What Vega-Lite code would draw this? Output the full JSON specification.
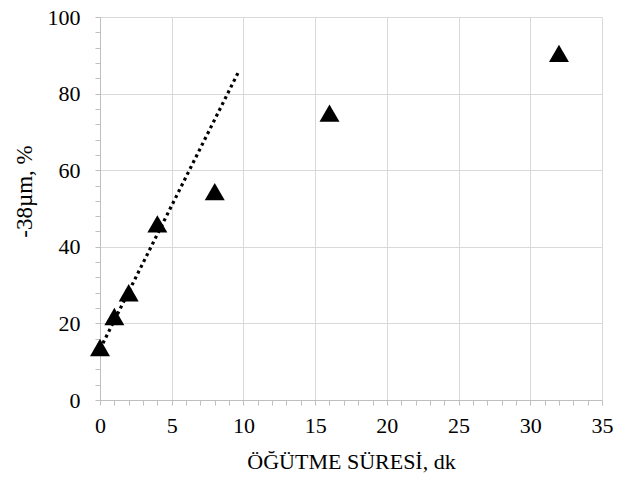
{
  "$schema": "https://vega.github.io/schema/vega-lite/v6.json",
  "width": 502,
  "height": 383,
  "autosize": {"type": "none"},
  "padding": {"left": 100, "top": 17, "right": 23, "bottom": 90},
  "background": "white",
  "config": {"view": {"stroke": null}},
  "datasets": {
    "pts": [
      {"t": 0, "p": 13.7},
      {"t": 1, "p": 21.8},
      {"t": 2, "p": 28.0},
      {"t": 4, "p": 46.0},
      {"t": 8, "p": 54.4},
      {"t": 16, "p": 74.9},
      {"t": 32, "p": 90.5}
    ],
    "trend": [
      {"t": 0, "p": 13.3},
      {"t": 9.7, "p": 86.0}
    ]
  },
  "resolve": {"axis": {"x": "independent", "y": "independent"}},
  "layer": [
    {
      "data": {"name": "trend"},
      "mark": {"type": "line", "color": "black", "strokeWidth": 3.2, "strokeDash": [3, 3.5], "strokeCap": "butt"},
      "encoding": {
        "x": {
          "field": "t", "type": "quantitative",
          "scale": {"domain": [0, 35], "nice": false},
          "axis": {
            "orient": "bottom",
            "title": "ÖĞÜTME SÜRESİ, dk",
            "values": [0, 5, 10, 15, 20, 25, 30, 35],
            "labelOverlap": false,
            "grid": true,
            "gridColor": "#d9d9d9",
            "labelFont": "Liberation Serif",
            "titleFont": "Liberation Serif",
            "labelFontSize": 22,
            "titleFontSize": 22,
            "titleFontWeight": "normal",
            "labelColor": "black",
            "titleColor": "black",
            "domainColor": "#bfbfbf",
            "tickColor": "#bfbfbf",
            "tickSize": 5,
            "labelPadding": 10,
            "titlePadding": 15,
            "labelFlush": false
          }
        },
        "y": {
          "field": "p", "type": "quantitative",
          "scale": {"domain": [0, 100], "nice": false},
          "axis": {
            "orient": "left",
            "title": "-38µm, %",
            "values": [0, 20, 40, 60, 80, 100],
            "labelOverlap": false,
            "grid": true,
            "gridColor": "#d9d9d9",
            "labelFont": "Liberation Serif",
            "titleFont": "Liberation Serif",
            "labelFontSize": 22,
            "titleFontSize": 23,
            "titleFontWeight": "normal",
            "labelColor": "black",
            "titleColor": "#000000",
            "titleY": 174,
            "domainColor": "#bfbfbf",
            "tickColor": "#bfbfbf",
            "tickSize": 5,
            "labelPadding": 15,
            "titlePadding": 11,
            "labelFlush": false
          }
        }
      }
    },
    {
      "data": {"name": "pts"},
      "mark": {"type": "point", "shape": "triangle-up", "filled": true, "color": "black", "size": 400, "opacity": 1},
      "encoding": {
        "x": {
          "field": "t", "type": "quantitative",
          "axis": {
            "orient": "bottom",
            "title": null,
            "values": [1,2,3,4,6,7,8,9,11,12,13,14,16,17,18,19,21,22,23,24,26,27,28,29,31,32,33,34],
            "labels": false,
            "grid": false,
            "domain": false,
            "tickColor": "#bfbfbf",
            "tickSize": 5
          }
        },
        "y": {
          "field": "p", "type": "quantitative",
          "axis": {
            "orient": "left",
            "title": null,
            "values": [4,8,12,16,24,28,32,36,44,48,52,56,64,68,72,76,84,88,92,96],
            "labels": false,
            "grid": false,
            "domain": false,
            "tickColor": "#bfbfbf",
            "tickSize": 5
          }
        }
      }
    }
  ]
}
